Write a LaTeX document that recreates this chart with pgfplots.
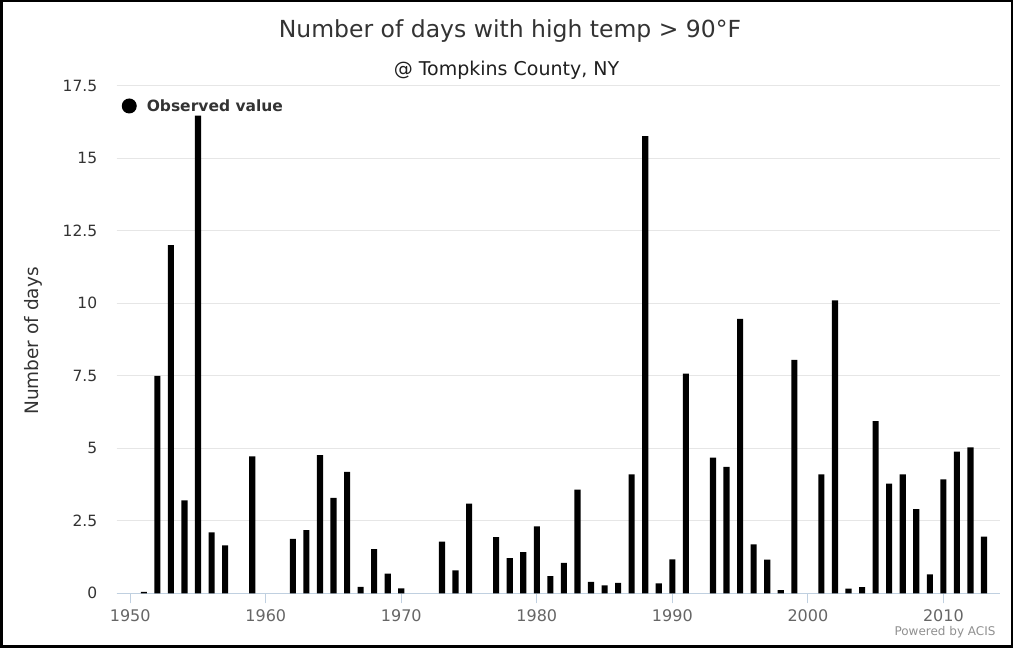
\documentclass[border=0pt]{standalone}
\usepackage{fontspec}
\setmainfont{DejaVu Sans}
\usepackage{pgfplots}
\usepackage{pgfplotstable}
\pgfplotsset{compat=1.18}

\definecolor{txt}{HTML}{333333}
\definecolor{lbl}{HTML}{666666}
\definecolor{gridc}{HTML}{E6E6E6}
\definecolor{axc}{HTML}{C0D0E0}
\definecolor{credit}{HTML}{909090}

% days with high temp > 90F, Tompkins County NY
\pgfplotstableread{
year days
1951 0.05
1952 7.5
1953 12.0
1954 3.2
1955 16.47
1956 2.1
1957 1.65
1959 4.72
1962 1.88
1963 2.18
1964 4.76
1965 3.29
1966 4.19
1967 0.22
1968 1.52
1969 0.68
1970 0.17
1973 1.78
1974 0.79
1975 3.09
1977 1.94
1978 1.21
1979 1.42
1980 2.31
1981 0.59
1982 1.05
1983 3.57
1984 0.39
1985 0.27
1986 0.36
1987 4.1
1988 15.76
1989 0.34
1990 1.17
1991 7.57
1993 4.68
1994 4.36
1995 9.46
1996 1.69
1997 1.16
1998 0.11
1999 8.05
2001 4.1
2002 10.1
2003 0.16
2004 0.21
2005 5.94
2006 3.78
2007 4.1
2008 2.9
2009 0.65
2010 3.93
2011 4.88
2012 5.03
2013 1.95
}\hotdays

\begin{document}
\begin{tikzpicture}[x=1pt,y=1pt]
\fill[white] (0,0) rectangle (1013,648);
\draw[line width=2.5pt] (1.25,1.25) rectangle (1011.75,646.75);

\node[text=txt, font=\fontsize{23.5}{27}\selectfont] at (510,617) {Number of days with high temp > 90°F};
\node[text=txt!60!black, font=\fontsize{19}{22}\selectfont] at (506.5,578) {@ Tompkins County, NY};
\node[text=credit, font=\fontsize{12}{14}\selectfont, anchor=east] at (999,16) {Powered by ACIS};

\begin{axis}[
  at={(116.7pt,54.7pt)}, anchor=south west,
  width=883.6pt, height=507.6pt, scale only axis,
  xmin=1949, xmax=2014.2, ymin=0, ymax=17.5,
  axis lines*=left,
  x axis line style={draw=axc, line width=1pt},
  y axis line style={draw=none},
  xtick={1950,1960,...,2010},
  ytick={0,2.5,...,17.5},
  ymajorgrids, grid style={draw=gridc, line width=1pt},
  x tick style={draw=axc, line width=1pt},
  y tick style={draw=none},
  tick align=outside, major tick length=10pt,
  /pgf/number format/assume math mode=true,
  /pgf/number format/1000 sep={},
  x tick label style={text=lbl, font=\fontsize{16}{19}\selectfont, yshift=-3pt},
  y tick label style={text=txt, font=\fontsize{15.5}{18}\selectfont, xshift=-6pt},
  every axis y label/.style={at={(axis description cs:-0.0947,0.497)}, rotate=90, anchor=center,
    text=txt, font=\fontsize{18.5}{22}\selectfont},
  ylabel={Number of days},
  legend style={at={(axis description cs:0.0055,0.96)}, anchor=west, draw=none, fill=none,
    font=\fontsize{15.5}{18}\selectfont\bfseries, text=txt, inner sep=0pt},
  legend image code/.code={\fill[black] (7.5pt,0pt) circle (7.5pt); \path (23pt,0pt);},
]
\addplot[ybar, bar width=0.45, fill=black, draw=none] table[x=year, y=days] {\hotdays};
\addlegendentry{Observed value}
\end{axis}
\end{tikzpicture}
\end{document}
